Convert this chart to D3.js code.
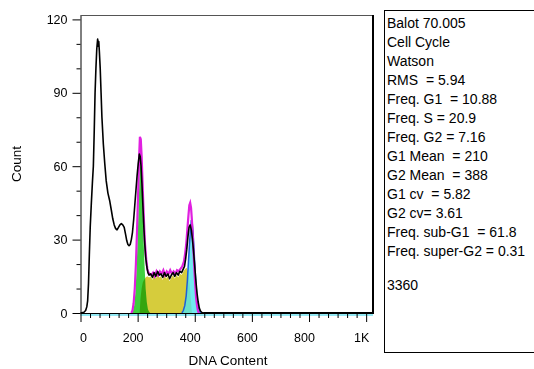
<!DOCTYPE html>
<html>
<head>
<meta charset="utf-8">
<script src="https://cdn.jsdelivr.net/npm/d3@7"></script>
<style>
  body { margin: 0; background: #fff; }
  svg { display: block; font-family: "Liberation Sans", Arial, sans-serif; }
</style>
</head>
<body>
<svg id="chart" width="534" height="369"></svg>
<script>
// [channel, count] pairs
const dataHist = [
  [0,0],[12,0.3],[18,1],[22,2.5],[25,5],[28,12],[31,24],[34,35],[38,45],[42,54],[45,60],
  [48,74],[51,90],[54,100],[57,108],[60,112],[62,109],[64,111],[66,107],[69,100],[72,90],
  [75,80],[80,69],[85,61],[90,54],[96,49],[102,46],[108,42],[113,38.5],[118,36],[123,34.5],
  [128,34],[133,35],[138,36],[143,36.5],[148,36],[153,35],[158,32],[162,29.5],[166,28],
  [170,27.5],[174,28],[178,30],[182,33],[186,38],[190,44],[194,50],[198,56],[202,61],
  [206,65],[209,64],[212,60],[215,53],[218,45],[221,37],[224,30],[228,23],[232,19],
  [236,16.5],[240,15.5],[246,16],[252,14.5],[258,16.5],[264,15],[270,17],[276,15.5],
  [282,16],[288,14.5],[294,16.5],[300,15],[306,16],[312,14],[318,15.5],[324,16.5],
  [330,15],[336,16.5],[342,15.5],[348,17],[354,16.5],[360,18],[364,19],[368,22],[372,26],
  [376,31],[380,35],[384,36],[388,34],[392,30],[396,25],[400,19],[404,13],[408,8],
  [412,4.5],[416,2],[420,0.8],[425,0.2],[430,0],[1024,0]
];

const fitCurve = [
  [178,0],[182,1],[186,4],[190,10],[194,20],[198,34],[202,50],[205,63],[208,72],[211,71],
  [214,64],[217,54],[220,44],[223,35],[226,28],[230,22],[234,18],[238,16.5],[242,16],
  [248,15.5],[254,16.5],[260,15],[266,17],[272,15.5],[278,17],[284,16],[290,17.5],
  [296,15.5],[302,17],[308,16],[314,17.5],[320,16],[326,17],[332,16],[338,17.5],[344,17],
  [350,18],[356,19],[362,21],[366,24],[370,28],[374,34],[378,40],[381,44],[384,45],
  [387,43],[390,38],[393,31],[396,24],[399,17],[402,11],[405,6],[408,3],[411,1],[414,0]
];

const g1Peak = [
  [178,0],[184,1],[188,3],[192,8],[196,17],[200,30],[204,46],[207,57],[210,62],[213,58],
  [216,48],[220,33],[224,20],[228,10],[232,4.5],[236,1.5],[240,0.5],[244,0]
];

const sPhase = [
  [207,0],[210,6],[214,10],[218,12.5],[222,13.5],[228,14.5],[234,15],[240,14.5],[246,15],
  [252,13.5],[258,15.5],[264,14],[270,16],[276,14.5],[282,15],[288,13.5],[294,15.5],
  [300,14],[306,15],[312,13],[318,14.5],[324,15.5],[330,14],[336,15.5],[342,14.5],
  [348,16],[354,15.5],[360,17],[366,18],[372,18.5],[378,16],[382,12],[386,6],[390,0]
];

const g2Peak = [
  [355,0],[360,1],[365,3],[370,7],[374,13],[378,21],[382,29],[385,34],[388,38],[391,37],
  [394,33],[397,27],[400,20],[403,14],[406,9],[409,5],[412,2.5],[416,1],[420,0]
];

const xTickValues = [0, 200, 400, 600, 800, 1000];
const xTickLabels = ["0", "200", "400", "600", "800", "1K"];
const yTickValues = [0, 30, 60, 90, 120];

const statsLines = [
  "Balot 70.005",
  "Cell Cycle",
  "Watson",
  "RMS  = 5.94",
  "Freq. G1  = 10.88",
  "Freq. S = 20.9",
  "Freq. G2 = 7.16",
  "G1 Mean  = 210",
  "G2 Mean  = 388",
  "G1 cv  = 5.82",
  "G2 cv= 3.61",
  "Freq. sub-G1  = 61.8",
  "Freq. super-G2 = 0.31"
];
const eventCount = "3360";

const svg = d3.select("#chart");
svg.append("rect").attr("width", 534).attr("height", 369).attr("fill", "#fff");

const x = d3.scaleLinear().domain([0, 1024]).range([80.5, 373]);
const y = d3.scaleLinear().domain([0, 121.8]).range([313, 15]);

const area = d3.area()
  .x(d => x(d[0]))
  .y0(y(0))
  .y1(d => y(d[1]));
const line = d3.line()
  .x(d => x(d[0]))
  .y(d => y(d[1]));

const plot = svg.append("g");

// S phase
plot.append("path").datum(sPhase)
  .attr("d", area)
  .attr("fill", "#d6cc3c");

// G1 peak
plot.append("path").datum(g1Peak)
  .attr("d", area)
  .attr("fill", "#3fcf3f")
  .style("mix-blend-mode", "multiply");

// G2 peak
plot.append("path").datum(g2Peak)
  .attr("d", area)
  .attr("fill", "#4fe4ec")
  .attr("fill-opacity", 0.8);
plot.append("path").datum(g2Peak)
  .attr("d", line)
  .attr("fill", "none")
  .attr("stroke", "#1e5fd8")
  .attr("stroke-width", 1.5);

// fitted model
plot.append("path").datum(fitCurve)
  .attr("d", line)
  .attr("fill", "none")
  .attr("stroke", "#e020e0")
  .attr("stroke-width", 2.2);

// cyan baseline under the axis
plot.append("path").datum(x.domain().map(v => [v, 0]))
  .attr("d", line)
  .attr("transform", "translate(0,2)")
  .attr("fill", "none")
  .attr("stroke", "#6fe2f0")
  .attr("stroke-width", 1.5);

// raw histogram
plot.append("path").datum(dataHist)
  .attr("d", line)
  .attr("fill", "none")
  .attr("stroke", "#000")
  .attr("stroke-width", 1.6)
  .attr("stroke-linejoin", "round");

// axes
const yAxis = svg.append("g")
  .attr("transform", "translate(80.5,0)")
  .call(d3.axisLeft(y).tickValues(yTickValues).tickSize(8).tickPadding(5).tickSizeOuter(0));
svg.append("g")
  .attr("transform", "translate(80.5,0)")
  .call(d3.axisLeft(y).tickValues(d3.range(0, 121, 10).filter(v => v % 30 !== 0)).tickSize(4).tickFormat(""))
  .call(g => g.select(".domain").remove());

const xAxis = svg.append("g")
  .attr("transform", "translate(0,313)")
  .call(d3.axisBottom(x).tickValues(xTickValues).tickSize(9).tickPadding(11).tickSizeOuter(0)
    .tickFormat((d, i) => xTickLabels[i]));
xAxis.selectAll(".tick text").attr("dx", d => d === 0 ? 2.5 : -5);
svg.append("g")
  .attr("transform", "translate(0,313)")
  .call(d3.axisBottom(x).tickValues(d3.range(0, 1001, 200 / 6).filter((v, i) => i % 6 !== 0)).tickSize(5).tickFormat(""))
  .call(g => g.select(".domain").remove());

svg.selectAll(".tick text")
  .attr("fill", "#000")
  .style("font-size", "12.5px");
svg.selectAll(".domain, .tick line").attr("stroke", "#000");

// frame
svg.append("line")
  .attr("x1", 80.5).attr("x2", 373).attr("y1", 15.5).attr("y2", 15.5)
  .attr("stroke", "#555").attr("stroke-width", 1);
svg.append("line")
  .attr("x1", 373).attr("x2", 373).attr("y1", 15).attr("y2", 314)
  .attr("stroke", "#000").attr("stroke-width", 2);
svg.append("line")
  .attr("x1", x(430)).attr("x2", 373).attr("y1", 313).attr("y2", 313)
  .attr("stroke", "#000").attr("stroke-width", 2);

// axis titles
svg.append("text")
  .attr("x", 228).attr("y", 365)
  .attr("text-anchor", "middle")
  .style("font-size", "13.5px")
  .text("DNA Content");
svg.append("text")
  .attr("transform", "translate(21,164) rotate(-90)")
  .attr("text-anchor", "middle")
  .style("font-size", "13.5px")
  .text("Count");

// stats box
svg.append("rect")
  .attr("x", 384.5).attr("y", 10.5)
  .attr("width", 200).attr("height", 342)
  .attr("fill", "#fff")
  .attr("stroke", "#000");

const lineH = 18.97;
const stats = svg.append("g").style("font-size", "14px");
stats.selectAll("text")
  .data(statsLines)
  .enter()
  .append("text")
  .attr("x", 387)
  .attr("y", (d, i) => 28 + i * lineH)
  .style("white-space", "pre")
  .text(d => d);
stats.append("text")
  .attr("x", 387)
  .attr("y", 28 + 12 * lineH + 34.3)
  .text(eventCount);
</script>
</body>
</html>
